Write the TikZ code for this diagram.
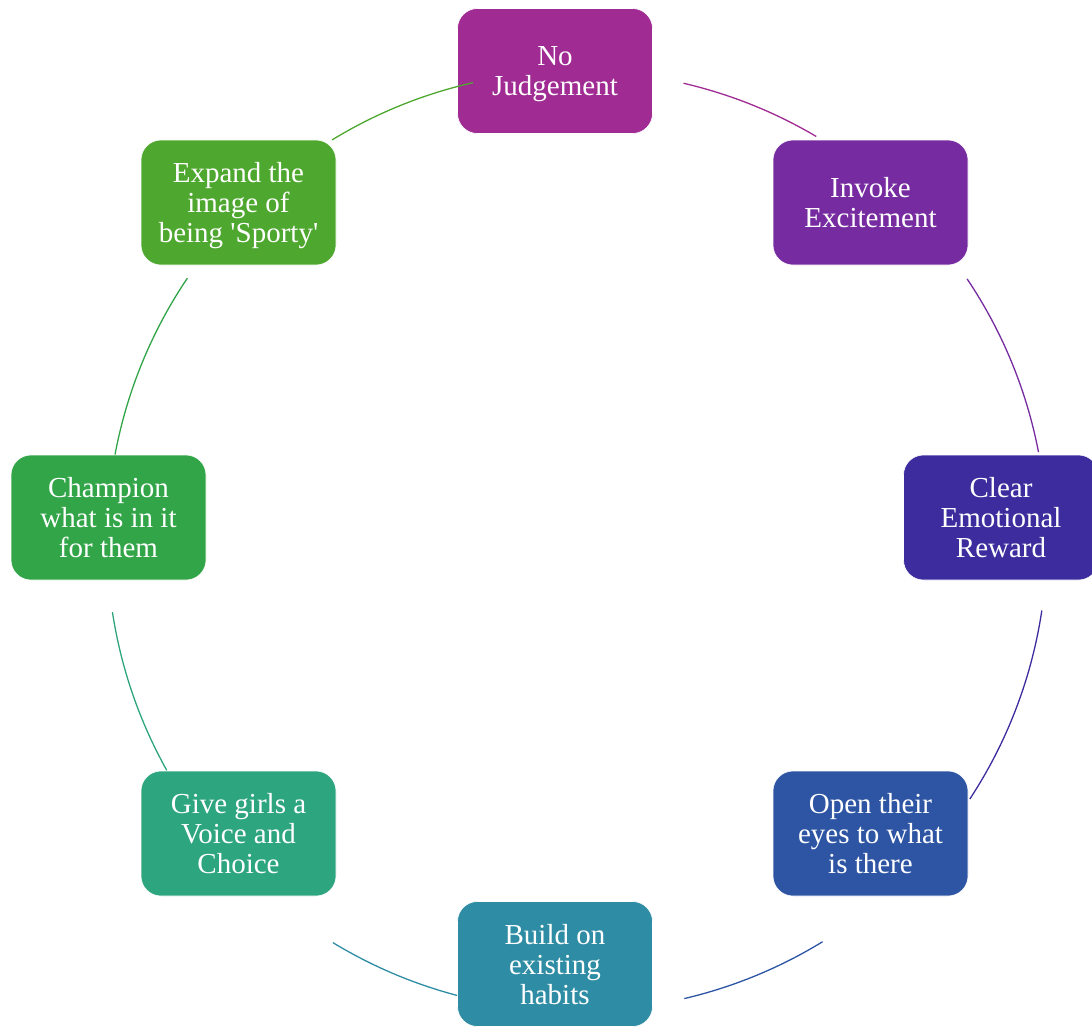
\documentclass[tikz,border=0pt]{standalone}
\usepackage{fontspec}
\setmainfont{Liberation Serif}

\definecolor{judgecol}{HTML}{A02B93}
\definecolor{invokecol}{HTML}{762CA0}
\definecolor{clearcol}{HTML}{3D2C9E}
\definecolor{opencol}{HTML}{2D55A3}
\definecolor{buildcol}{HTML}{2E8DA4}
\definecolor{givecol}{HTML}{2DA57E}
\definecolor{champcol}{HTML}{32A548}
\definecolor{expandcol}{HTML}{4EA72E}

\tikzset{
  stage/.style={rounded corners=20pt, minimum width=195pt, minimum height=125pt,
    inner sep=0pt, text=white, align=center, draw=white, line width=0.6pt,
    text depth=0pt, font=\fontsize{29}{30}\selectfont},
  link/.style={line width=1.3pt}
}

\begin{document}
\begin{tikzpicture}[x=1pt, y=1pt]

          \useasboundingbox (0, 0) rectangle (1092, -1026);

          \node[stage, fill=judgecol]  (judge)  at (555, -71)    {No\\Judgement};
          \node[stage, fill=invokecol] (invoke) at (870.5, -202.5) {Invoke\\Excitement};
          \node[stage, fill=clearcol]  (clear)  at (1001, -517.5) {Clear\\Emotional\\Reward};
          \node[stage, fill=opencol]   (open)   at (870.5, -833.5) {Open their\\eyes to what\\is there};
          \node[stage, fill=buildcol]  (build)  at (555, -964)   {Build on\\existing\\habits};
          \node[stage, fill=givecol]   (give)   at (238.5, -833.5) {Give girls a\\Voice and\\Choice};
          \node[stage, fill=champcol]  (champ)  at (108.5, -517.5) {Champion\\what is in it\\for them};
          \node[stage, fill=expandcol] (expand) at (238.5, -202.5)
            {Expand the\\image of\\being \textquotesingle Sporty\textquotesingle};

          % arcs of the cycle
          \coordinate (hub) at (577, -541);
          \draw[link, judgecol]  (hub) ++(76.9:470pt)  arc[start angle=76.9,  end angle=59.4,   radius=470pt];
          \draw[link, invokecol] (hub) ++(33.9:470pt)  arc[start angle=33.9,  end angle=10.9,   radius=470pt];
          \draw[link, clearcol]  (hub) ++(-8.5:470pt)  arc[start angle=-8.5,  end angle=-33.3,  radius=470pt];
          \draw[link, opencol]   (hub) ++(-58.5:470pt) arc[start angle=-58.5, end angle=-76.8,  radius=470pt];
          \draw[link, buildcol]  (hub) ++(-104.8:470pt) arc[start angle=-104.8, end angle=-121.3, radius=470pt];
          \draw[link, givecol]   (hub) ++(-150.8:470pt) arc[start angle=-150.8, end angle=-171.3, radius=470pt];
          \draw[link, champcol]  (hub) ++(169.4:470pt) arc[start angle=169.4, end angle=146.0,  radius=470pt];
          \draw[link, expandcol] (hub) ++(121.4:470pt) arc[start angle=121.4, end angle=102.8,  radius=470pt];

        \end{tikzpicture}
\end{document}
